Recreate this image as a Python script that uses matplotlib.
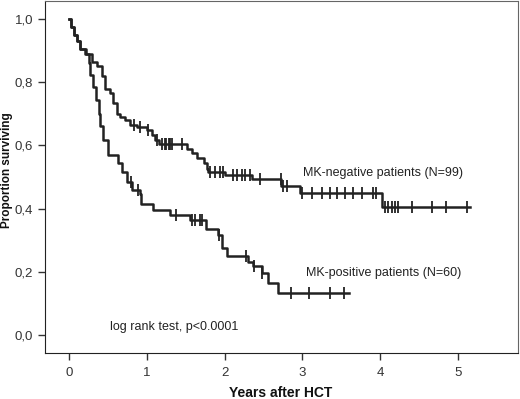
import numpy as np
import matplotlib
matplotlib.use("Agg")
import matplotlib.pyplot as plt

plt.rcParams['font.family'] = ['Liberation Sans', 'DejaVu Sans']

# MK-negative group: step times and survival after each step
neg_t = [0, 0.03, 0.06, 0.10, 0.14, 0.22, 0.30, 0.36, 0.42, 0.46, 0.53, 0.57, 0.61,
         0.655, 0.72, 0.78, 0.87, 1.00, 1.06, 1.105, 1.15, 1.51, 1.58, 1.65, 1.73,
         1.77, 1.79, 2.00, 2.35, 2.73, 2.97, 4.02]
neg_s = [1.0, 0.975, 0.95, 0.93, 0.905, 0.89, 0.865, 0.85, 0.82, 0.78, 0.765, 0.733, 0.70,
         0.69, 0.68, 0.665, 0.658, 0.648, 0.633, 0.617, 0.606, 0.59, 0.575, 0.56, 0.543,
         0.527, 0.517, 0.506, 0.494, 0.472, 0.448, 0.406]
neg_end = 5.15
neg_cens = [0.835, 0.91, 1.02, 1.13, 1.19, 1.23, 1.25, 1.28, 1.30, 1.32, 1.45, 1.81, 1.88,
            1.94, 1.98, 2.11, 2.16, 2.22, 2.26, 2.32, 2.45, 2.72, 2.75, 2.80, 2.99, 3.12,
            3.25, 3.35, 3.44, 3.55, 3.65, 3.76, 3.91, 3.95, 4.06, 4.10, 4.15, 4.19, 4.23,
            4.41, 4.67, 4.85, 5.11]

# MK-positive group
pos_t = [0, 0.03, 0.06, 0.10, 0.14, 0.20, 0.25, 0.27, 0.31, 0.35, 0.38, 0.40, 0.44, 0.50,
         0.63, 0.68, 0.74, 0.81, 0.91, 0.93, 1.08, 1.30, 1.555, 1.76, 1.92, 1.96, 2.03,
         2.30, 2.36, 2.48, 2.56, 2.69]
pos_s = [1.0, 0.975, 0.95, 0.93, 0.905, 0.89, 0.86, 0.823, 0.786, 0.744, 0.70, 0.66, 0.617,
         0.57, 0.545, 0.515, 0.485, 0.46, 0.445, 0.416, 0.397, 0.38, 0.364, 0.337, 0.318,
         0.274, 0.25, 0.232, 0.218, 0.198, 0.164, 0.132]
pos_end = 3.6
pos_cens = [0.80, 0.89, 1.38, 1.58, 1.62, 1.68, 1.71, 1.93, 2.28, 2.38, 2.48, 2.85, 3.09,
            3.36, 3.54]

x_ticks = [0, 1, 2, 3, 4, 5]
y_ticks = [0.0, 0.2, 0.4, 0.6, 0.8, 1.0]
y_labels = ['0,0', '0,2', '0,4', '0,6', '0,8', '1,0']

fig = plt.figure(figsize=(5.2, 3.99), dpi=100)
ax = fig.add_axes([0.0865, 0.115, 0.9095, 0.8825])

col = '#222222'
for t, s, end, cens in [(neg_t, neg_s, neg_end, neg_cens), (pos_t, pos_s, pos_end, pos_cens)]:
    tt = np.append(t, end)
    ss = np.append(s, s[-1])
    ax.step(tt, ss, where='post', color=col, lw=1.8)
    idx = np.searchsorted(t, cens, side='right') - 1
    ax.plot(cens, np.array(s)[idx], ls='none', marker='|', ms=8, mew=1.3, color=col)

ax.set_xlim(-0.31, 5.77)
ax.set_ylim(-0.057, 1.057)
ax.set_xticks(x_ticks)
ax.set_yticks(y_ticks)
ax.set_yticklabels(y_labels)
ax.tick_params(direction='out', length=5, width=1, colors='#333333', labelsize=9.5)
ax.tick_params(axis='x', pad=5)

for side in ['left', 'bottom']:
    ax.spines[side].set_color('#222222')
for side in ['top', 'right']:
    ax.spines[side].set_color('#666666')

fig.text(281 / 520, 1 - 397 / 399, 'Years after HCT', fontweight='bold', fontsize=10,
         ha='center', va='baseline', color='#111111')
fig.text(7 / 520, 1 - 170 / 399, 'Proportion surviving', fontweight='bold', fontsize=8.5,
         ha='center', va='center', rotation=90, color='#111111')

ax.text(3.01, 0.512, 'MK-negative patients (N=99)', fontsize=9, color='#222222', va='center')
ax.text(3.04, 0.195, 'MK-positive patients (N=60)', fontsize=9, color='#222222', va='center')
ax.text(0.53, 0.025, 'log rank test, p<0.0001', fontsize=9, color='#222222', va='center')

fig.savefig('out.png', dpi=100)
